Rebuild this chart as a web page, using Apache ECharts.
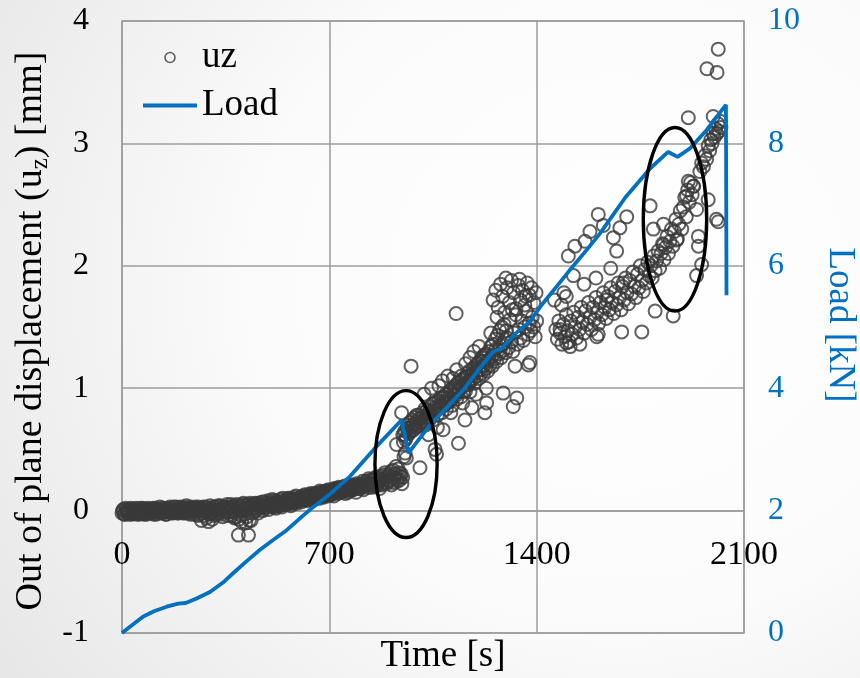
<!DOCTYPE html>
<html>
<head>
<meta charset="utf-8">
<script src="https://cdn.jsdelivr.net/npm/echarts@6/dist/echarts.min.js"></script>
<style>
  html, body { margin: 0; padding: 0; }
  #chart {
    width: 860px; height: 678px;
    background: radial-gradient(ellipse 95% 110% at 72% 42%, #ffffff 0%, #fbfbfb 45%, #e3e3e3 100%);
  }
</style>
</head>
<body>
<div id="chart"></div>
<script>
// Axis ticks
const timeTicks = [0, 700, 1400, 2100];
const uzTicks = [-1, 0, 1, 2, 3, 4];
const loadTicks = [0, 2, 4, 6, 8, 10];

// Applied load [kN] over time [s]
const loadData = [
  [0,0],[40,0.15],[72,0.27],[110,0.36],[151,0.43],[190,0.48],[215,0.49],[250,0.56],[297,0.67],[340,0.82],
  [376,0.98],[420,1.17],[466,1.36],[510,1.52],[556,1.68],[600,1.87],[646,2.06],[700,2.26],[770,2.56],[854,3.02],
  [944,3.48],[967,2.94],[1040,3.40],[1100,3.70],[1152,3.97],[1200,4.28],[1254,4.60],[1282,4.65],[1330,4.90],[1377,5.09],
  [1420,5.38],[1467,5.66],[1512,5.93],[1569,6.26],[1614,6.53],[1700,7.12],[1783,7.59],[1844,7.86],[1876,7.78],[1918,7.92],
  [1974,8.22],[2039,8.63],[2041,5.52]
];

// Out-of-plane displacement uz [mm]: early, nearly flat stage
const uzEarly = [
  [0,-0.02],[5,0.01],[10,-0.03],[15,0.00],[20,-0.01],[25,-0.03],[30,0.02],[35,-0.02],[40,0.00],[45,-0.01],
  [50,-0.03],[55,0.01],[60,-0.02],[65,-0.01],[70,0.02],[75,-0.03],[80,0.00],[85,-0.02],[90,0.01],[95,-0.01],
  [100,-0.02],[105,0.02],[110,-0.01],[115,-0.03],[120,0.01],[125,0.00],[130,-0.02],[135,0.02],[140,-0.01],[145,0.00],
  [150,-0.03],[155,0.02],[160,0.01],[165,-0.02],[170,0.00],[175,0.03],[180,-0.01],[185,0.01],[190,-0.02],[195,0.02],
  [200,0.00],[205,-0.02],[210,0.03],[215,0.01],[220,-0.01],[225,0.02],[230,-0.03],[235,0.00],[240,0.02],[245,-0.01],
  [250,0.01],[255,-0.04],[260,0.02],[265,0.00],[270,-0.02],[275,0.03],[280,-0.01],[285,-0.06],[290,0.01],[295,-0.02],
  [300,0.02],[305,-0.01],[310,0.03],[315,-0.03],[320,0.00],[325,0.04],[330,-0.02],[335,0.01],[340,-0.05],[345,0.02],
  [350,0.00],[355,0.05],[360,-0.01],[365,0.03],[370,-0.04],[375,0.01],[380,0.04],[385,-0.02],[390,0.02],[395,-0.07],
  [400,0.03],[405,0.00],[410,0.06],[415,-0.03],[420,0.02],[425,0.05],[430,-0.08],[435,0.01],[440,0.04],[445,-0.01],
  [450,0.06],[455,0.02],[460,-0.02],[465,0.05],[470,0.03],[475,0.00],[480,0.07],[485,0.03],[490,0.05],[495,0.01],
  [500,0.06],[505,0.03],[510,0.08],[515,0.04],[520,0.02],[525,0.07],[530,0.05],[535,0.09],[540,0.03],[545,0.06],
  [550,0.08],[555,0.05],[560,0.10],[565,0.06],[570,0.04],[575,0.09],[580,0.07],[585,0.11],[590,0.06],[595,0.08],
  [600,0.10],[605,0.07],[610,0.12],[615,0.09],[620,0.11],[625,0.08],[630,0.13],[635,0.10],[640,0.12],[645,0.09],
  [650,0.14],[655,0.11],[660,0.13],[665,0.10],[670,0.15],[675,0.12],[680,0.11],[685,0.14],[690,0.16],[695,0.12],
  [700,0.15],[705,0.13],[710,0.17],[715,0.12],[720,0.16],[725,0.18],[730,0.14],[735,0.17],[740,0.15],[745,0.19],
  [750,0.16],[755,0.14],[760,0.18],[765,0.20],[770,0.16],[775,0.19],[780,0.17],[785,0.21],[790,0.15],[795,0.19],
  [800,0.20],[805,0.18],[810,0.22],[815,0.17],[820,0.21],[825,0.24],[830,0.19],[835,0.22],[840,0.25],[845,0.20],
  [850,0.23],[855,0.27],[860,0.21],[865,0.24],[870,0.18],[875,0.26],[880,0.22],[885,0.29],[890,0.23],[895,0.27],
  [900,0.25],[905,0.30],[910,0.21],[915,0.33],[920,0.27],[925,0.36],[930,0.24],[935,0.31],[940,0.28],[945,0.22],
  [268,-0.08],[292,-0.09],[305,-0.07],[393,-0.20],[404,-0.09],[418,-0.10],[427,-0.20],[436,-0.08],[380,-0.06]
];

// Interleaved readings of the same early stage
const uzEarlyB = [
  [2.5,0.00],[7.5,-0.03],[12.5,0.02],[17.5,-0.02],[22.5,0.01],[27.5,-0.01],[32.5,-0.03],[37.5,0.01],[42.5,-0.02],[47.5,0.02],
  [52.5,-0.01],[57.5,-0.03],[62.5,0.02],[67.5,0.00],[72.5,-0.02],[77.5,0.01],[82.5,-0.03],[87.5,0.02],[92.5,-0.02],[97.5,0.01],
  [102.5,0.00],[107.5,-0.03],[112.5,0.02],[117.5,0.00],[122.5,-0.02],[127.5,0.03],[132.5,0.00],[137.5,-0.02],[142.5,0.02],[147.5,-0.03],
  [152.5,0.01],[157.5,-0.01],[162.5,0.03],[167.5,0.00],[172.5,-0.02],[177.5,0.01],[182.5,0.03],[187.5,-0.02],[192.5,0.00],[197.5,0.03],
  [202.5,-0.01],[207.5,0.02],[212.5,-0.02],[217.5,0.04],[222.5,0.00],[227.5,-0.02],[232.5,0.03],[237.5,0.01],[242.5,-0.03],[247.5,0.03],
  [252.5,0.00],[257.5,0.03],[262.5,-0.03],[267.5,0.02],[272.5,0.00],[277.5,-0.04],[282.5,0.03],[287.5,0.00],[292.5,-0.03],[297.5,0.04],
  [302.5,-0.02],[307.5,0.01],[312.5,-0.04],[317.5,0.03],[322.5,-0.02],[327.5,0.01],[332.5,0.04],[337.5,-0.03],[342.5,0.03],[347.5,-0.01],
  [352.5,0.03],[357.5,-0.04],[362.5,0.02],[367.5,0.05],[372.5,-0.01],[377.5,0.03],[382.5,-0.05],[387.5,0.05],[392.5,0.00],[397.5,0.04],
  [402.5,-0.04],[407.5,0.05],[412.5,0.01],[417.5,0.04],[422.5,-0.05],[427.5,0.03],[432.5,0.06],[437.5,-0.02],[442.5,0.05],[447.5,0.03],
  [452.5,0.00],[457.5,0.06],[462.5,0.04],[467.5,0.02],[472.5,0.07],[477.5,0.04],[482.5,0.02],[487.5,0.06],[492.5,0.08],[497.5,0.04],
  [502.5,0.05],[507.5,0.09],[512.5,0.06],[517.5,0.03],[522.5,0.08],[527.5,0.06],[532.5,0.04],[537.5,0.07],[542.5,0.10],[547.5,0.05],
  [552.5,0.07],[557.5,0.09],[562.5,0.06],[567.5,0.10],[572.5,0.08],[577.5,0.06],[582.5,0.09],[587.5,0.12],[592.5,0.08],[597.5,0.10],
  [602.5,0.08],[607.5,0.11],[612.5,0.09],[617.5,0.13],[622.5,0.10],[627.5,0.12],[632.5,0.09],[637.5,0.14],[642.5,0.11],[647.5,0.13],
  [652.5,0.10],[657.5,0.14],[662.5,0.12],[667.5,0.16],[672.5,0.13],[677.5,0.15],[682.5,0.12],[687.5,0.16],[692.5,0.14],[697.5,0.17],
  [702.5,0.13],[707.5,0.16],[712.5,0.14],[717.5,0.18],[722.5,0.15],[727.5,0.17],[732.5,0.19],[737.5,0.15],[742.5,0.18],[747.5,0.16],
  [752.5,0.20],[757.5,0.17],[762.5,0.15],[767.5,0.19],[772.5,0.21],[777.5,0.17],[782.5,0.20],[787.5,0.18],[792.5,0.22],[797.5,0.18],
  [802.5,0.21],[807.5,0.19],[812.5,0.24],[817.5,0.20],[822.5,0.23],[827.5,0.21],[832.5,0.26],[837.5,0.22],[842.5,0.19],[847.5,0.25],
  [852.5,0.22],[857.5,0.20],[862.5,0.27],[867.5,0.23],[872.5,0.28],[877.5,0.21],[882.5,0.25],[887.5,0.31],[892.5,0.22],[897.5,0.28],
  [902.5,0.24],[907.5,0.32],[912.5,0.27],[917.5,0.23],[922.5,0.30],[927.5,0.26],[932.5,0.34],[937.5,0.25],[942.5,0.30],[947.5,0.27]
];

// uz during the steep rise, 940 s to 1400 s
const uzRise = [
  [944,0.80],[948,0.62],[952,0.44],[956,0.47],[960,0.43],[927,0.54],[976,1.18],[1006,0.35],[1057,0.50],[1062,0.46],
  [950,0.56],[955,0.65],[960,0.60],[965,0.70],[970,0.63],[975,0.68],[980,0.74],[985,0.66],[990,0.71],[995,0.78],
  [1000,0.69],[1005,0.75],[1010,0.72],[1015,0.80],[1020,0.74],[1025,0.70],[1030,0.82],[1035,0.77],[1040,0.85],[1045,0.79],
  [1050,0.74],[1055,0.88],[1060,0.82],[1065,0.78],[1070,0.90],[1075,0.84],[1080,0.80],[1085,0.93],[1090,0.87],[1095,0.83],
  [1100,0.95],[1105,0.89],[1110,0.99],[1115,0.86],[1120,0.94],[1125,1.02],[1130,0.91],[1135,0.97],[1140,1.05],[1145,0.93],
  [1150,1.01],[1155,1.08],[1160,0.98],[1165,1.12],[1170,1.03],[1175,0.97],[1180,1.10],[1185,1.16],[1190,1.04],[1195,1.13],
  [1200,1.20],[1205,1.08],[1210,1.15],[1215,1.25],[1220,1.11],[1225,1.19],[1230,1.28],[1235,1.14],[1240,1.23],[1245,1.34],
  [1250,1.18],[1255,1.27],[1260,1.40],[1265,1.22],[1270,1.31],[1275,1.47],[1280,1.25],[1285,1.36],[1290,1.52],[1295,1.29],
  [1300,1.41],[1305,1.33],[1310,1.56],[1315,1.38],[1320,1.30],[1325,1.45],[1330,1.60],[1335,1.36],[1340,1.48],[1345,1.41],
  [1350,1.55],[1355,1.39],[1360,1.50],[1365,1.63],[1370,1.44],[1375,1.53],[1380,1.47],[1385,1.58],[1390,1.50],[1395,1.42],[1400,1.55],
  [952.5,0.62],[957.5,0.58],[962.5,0.67],[967.5,0.64],[972.5,0.72],[977.5,0.65],[982.5,0.70],[987.5,0.76],[992.5,0.68],[997.5,0.73],
  [1002.5,0.78],[1007.5,0.70],[1012.5,0.76],[1017.5,0.73],[1022.5,0.83],[1027.5,0.76],[1032.5,0.79],[1037.5,0.74],[1042.5,0.81],[1047.5,0.87],
  [1052.5,0.80],[1057.5,0.84],[1062.5,0.89],[1067.5,0.83],[1072.5,0.86],[1077.5,0.92],[1082.5,0.85],[1087.5,0.89],[1092.5,0.95],[1097.5,0.88],
  [1102.5,0.92],[1107.5,0.97],[1112.5,0.91],[1117.5,0.96],[1122.5,1.00],[1127.5,0.94],[1132.5,1.04],[1137.5,0.99],[1142.5,1.02],[1147.5,1.07],
  [1152.5,0.97],[1157.5,1.03],[1162.5,1.09],[1167.5,1.05],[1172.5,1.14],[1177.5,1.06],[1182.5,1.12],[1187.5,1.08],[1192.5,1.18],[1197.5,1.10],
  [1202.5,1.15],[1207.5,1.22],[1212.5,1.12],[1217.5,1.18],[1222.5,1.27],[1227.5,1.16],[1232.5,1.22],[1237.5,1.30],[1242.5,1.19],[1247.5,1.26],
  [1252.5,1.36],[1257.5,1.24],[1262.5,1.32],[1267.5,1.43],[1272.5,1.28],[1277.5,1.35],[1282.5,1.50],[1287.5,1.31],[1292.5,1.40],[1297.5,1.47],
  [1020,0.95],[1045,1.00],[1065,0.68],[1082,1.06],[1110,0.80],[1118,1.08],[1130,1.15],[1146,1.10],[1150,0.88],[1175,1.25],
  [1188,1.30],[1195,0.95],[1206,1.34],[1218,1.22],[1230,1.00],[1245,1.45],[1160,1.20],[1100,1.10],[1070,1.02],[1035,0.62],
  [1084,0.66],[1136,0.55],[1158,0.74],[1181,0.84],[1225,0.80],[1231,0.88],[1128,1.61],
  [1287,0.96],[1321,0.85],[1333,0.92],[1327,1.18],[1372,1.19],[1377,1.21],
  [1253,1.72],[1262,1.80],[1270,1.66],[1278,1.85],[1285,1.75],[1292,1.62],[1300,1.82],[1308,1.70],[1315,1.88],[1322,1.78],
  [1330,1.65],[1338,1.84],[1345,1.72],[1352,1.80],[1360,1.68],[1368,1.86],[1375,1.76],[1382,1.82],[1390,1.70],[1398,1.78],
  [1266,1.58],[1296,1.90],[1318,1.64],[1342,1.89],[1364,1.75]
];

// uz in the later stage, 1460 s to the end of the test
const uzLate = [
  [1460,1.72],[1465,1.48],[1470,1.40],[1475,1.55],[1480,1.45],[1485,1.36],[1490,1.52],[1495,1.42],[1500,1.60],[1505,1.47],
  [1510,1.38],[1515,1.55],[1520,1.44],[1525,1.62],[1530,1.50],[1535,1.41],[1540,1.58],[1545,1.48],[1550,1.66],[1555,1.54],
  [1560,1.45],[1565,1.63],[1570,1.52],[1575,1.70],[1580,1.58],[1585,1.48],[1590,1.66],[1595,1.56],[1600,1.74],[1605,1.62],
  [1610,1.53],[1615,1.70],[1620,1.60],[1625,1.78],[1630,1.66],[1635,1.57],[1640,1.75],[1645,1.64],[1650,1.82],[1655,1.70],
  [1660,1.61],[1665,1.79],[1670,1.68],[1675,1.86],[1680,1.74],[1685,1.64],[1690,1.83],[1695,1.72],[1700,1.90],[1705,1.78],
  [1710,1.69],[1715,1.88],[1720,1.77],[1725,1.95],[1730,1.83],[1735,1.74],[1740,1.93],[1745,1.82],[1750,2.00],[1755,1.88],
  [1760,1.79],[1765,1.97],[1770,1.86],[1775,2.03],[1780,1.92],
  [1484,1.68],[1492,1.78],[1500,1.75],[1507,2.08],[1524,1.92],[1529,2.16],[1563,2.20],[1580,2.28],[1608,2.42],[1625,2.33],
  [1636,1.72],[1659,2.23],[1670,2.12],[1681,2.31],[1692,1.86],[1704,2.40],[1560,1.85],[1600,1.90],[1650,1.98],
  [1501,1.37],[1513,1.34],[1546,1.36],[1608,1.44],[1687,1.46],[1755,1.46],[1800,1.63],[1861,1.59],[1479,1.48],[1603,1.42],
  [1785,2.00],[1790,1.90],[1795,2.08],[1800,1.96],[1805,2.04],[1810,2.12],[1815,1.98],[1820,2.10],[1825,2.18],[1830,2.05],
  [1835,2.15],[1840,2.24],[1845,2.10],[1850,2.20],[1855,2.30],[1860,2.16],[1865,2.28],[1870,2.38],[1875,2.22],[1880,2.34],
  [1885,2.45],[1890,2.30],[1895,2.48],[1900,2.56],[1905,2.40],[1910,2.62],[1915,2.52],[1920,2.68],[1925,2.58],[1930,2.65],
  [1783,2.49],[1794,2.30],[1828,2.34],[1828,2.17],[1873,2.21],[1906,2.57],[1912,2.69],[1929,2.65],[1940,2.46],[1946,2.24],
  [1946,2.16],[1940,1.92],[1957,2.01],[1979,2.54],[2007,2.38],[2013,2.36],
  [1951,2.77],[1957,2.84],[1963,2.81],[1968,2.90],[1974,2.87],[1979,2.98],[1984,2.94],[1988,3.03],[1992,3.00],[1996,3.08],
  [2000,3.05],[2004,3.12],[2008,3.08],[2012,3.16],[2016,3.10],[2020,3.18],[2022,3.13],
  [1912,3.21],[1996,3.22],[2013,3.77],[1975,3.61],[2009,3.58]
];

// Highlighted regions (centre time, centre uz, half-width in s, half-height in mm)
const regionMarks = [
  [959, 0.38, 105, 0.60],
  [1867, 2.38, 107, 0.75]
];

const serif = '"Liberation Serif", "Times New Roman", serif';
const gridGray = '#9c9c9c';
const loadBlue = '#0070C0';

const chart = echarts.init(document.getElementById('chart'), null, { renderer: 'canvas' });

chart.setOption({
  animation: false,
  backgroundColor: 'transparent',
  grid: {
    left: 122, right: 116, top: 21, bottom: 45,
    outerBoundsMode: 'none', containLabel: false,
    show: true, borderColor: gridGray, borderWidth: 1.5, backgroundColor: 'transparent'
  },
  legend: {
    orient: 'vertical', left: 141, top: 39, padding: 0,
    itemWidth: 54, itemHeight: 10, itemGap: 11,
    textStyle: { fontFamily: serif, fontSize: 37, color: '#000' },
    data: [
      { name: 'uz', itemStyle: { borderWidth: 1.6 } },
      { name: 'Load', itemStyle: { opacity: 0 }, lineStyle: { width: 4 } }
    ]
  },
  xAxis: {
    type: 'value', min: timeTicks[0], max: timeTicks[timeTicks.length - 1], interval: timeTicks[1] - timeTicks[0],
    axisLine: { show: true, onZero: false, lineStyle: { color: gridGray, width: 1.5 } },
    axisTick: { show: false },
    axisLabel: { margin: 27, fontFamily: serif, fontSize: 34, color: '#000', formatter: (v) => String(v) },
    splitLine: { show: true, lineStyle: { color: gridGray, width: 1.5 } }
  },
  yAxis: [
    {
      type: 'value', min: uzTicks[0], max: uzTicks[uzTicks.length - 1], interval: uzTicks[1] - uzTicks[0],
      axisLine: { show: false }, axisTick: { show: false },
      axisLabel: { margin: 33, fontFamily: serif, fontSize: 32, color: '#000' },
      splitLine: { show: true, lineStyle: { color: gridGray, width: 1.5 } }
    },
    {
      type: 'value', position: 'right', min: loadTicks[0], max: loadTicks[loadTicks.length - 1], interval: loadTicks[1] - loadTicks[0],
      axisLine: { show: false }, axisTick: { show: false },
      axisLabel: { margin: 24, fontFamily: serif, fontSize: 32, color: loadBlue },
      splitLine: { show: false }
    }
  ],
  series: [
    {
      name: 'uz', type: 'scatter', xAxisIndex: 0, yAxisIndex: 0,
      symbol: 'circle', symbolSize: 13,
      itemStyle: { color: 'rgba(0,0,0,0)', borderColor: '#3a3a3a', borderWidth: 2 },
      emphasis: { disabled: true },
      data: uzEarly.concat(uzEarlyB, uzRise, uzLate),
      z: 2
    },
    {
      name: 'Load', type: 'line', xAxisIndex: 0, yAxisIndex: 1,
      symbol: 'none', smooth: false,
      lineStyle: { color: loadBlue, width: 3.8 },
      itemStyle: { color: loadBlue },
      data: loadData,
      z: 3
    }
  ]
});

// Move the time axis up so that it runs along uz = 0
const toPx = (p) => chart.convertToPixel({ xAxisIndex: 0, yAxisIndex: 0 }, p);
const zeroY = toPx([0, 0])[1];
const bottomY = toPx([0, uzTicks[0]])[1];

// Highlight ellipses around the two load drops
const ellipses = regionMarks.map(([t, u, dt, du]) => {
  const c = toPx([t, u]);
  const ex = toPx([t + dt, u]);
  const ey = toPx([t, u + du]);
  return {
    type: 'ellipse',
    shape: { cx: c[0], cy: c[1], rx: Math.abs(ex[0] - c[0]), ry: Math.abs(c[1] - ey[1]) },
    style: { fill: null, stroke: '#000', lineWidth: 3.4 },
    z: 10
  };
});

chart.setOption({
  xAxis: { offset: -(bottomY - zeroY) },
  graphic: ellipses.concat([
    {
      type: 'text', x: 31, y: 331, rotation: Math.PI / 2,
      style: {
        text: 'Out of plane displacement (u{sub|z}) [mm]',
        fontFamily: serif, fontSize: 38, fill: '#000', lineHeight: 43,
        align: 'center', verticalAlign: 'middle',
        rich: { sub: { fontFamily: serif, fontSize: 25, lineHeight: 25, verticalAlign: 'bottom', fill: '#000' } }
      }
    },
    {
      type: 'text', x: 443, y: 656,
      style: { text: 'Time [s]', fontFamily: serif, fontSize: 37, fill: '#000', align: 'center', verticalAlign: 'middle' }
    },
    {
      type: 'text', x: 840, y: 325, rotation: -Math.PI / 2,
      style: { text: 'Load [kN]', fontFamily: serif, fontSize: 37, fill: loadBlue, align: 'center', verticalAlign: 'middle' }
    }
  ])
});
</script>
</body>
</html>
